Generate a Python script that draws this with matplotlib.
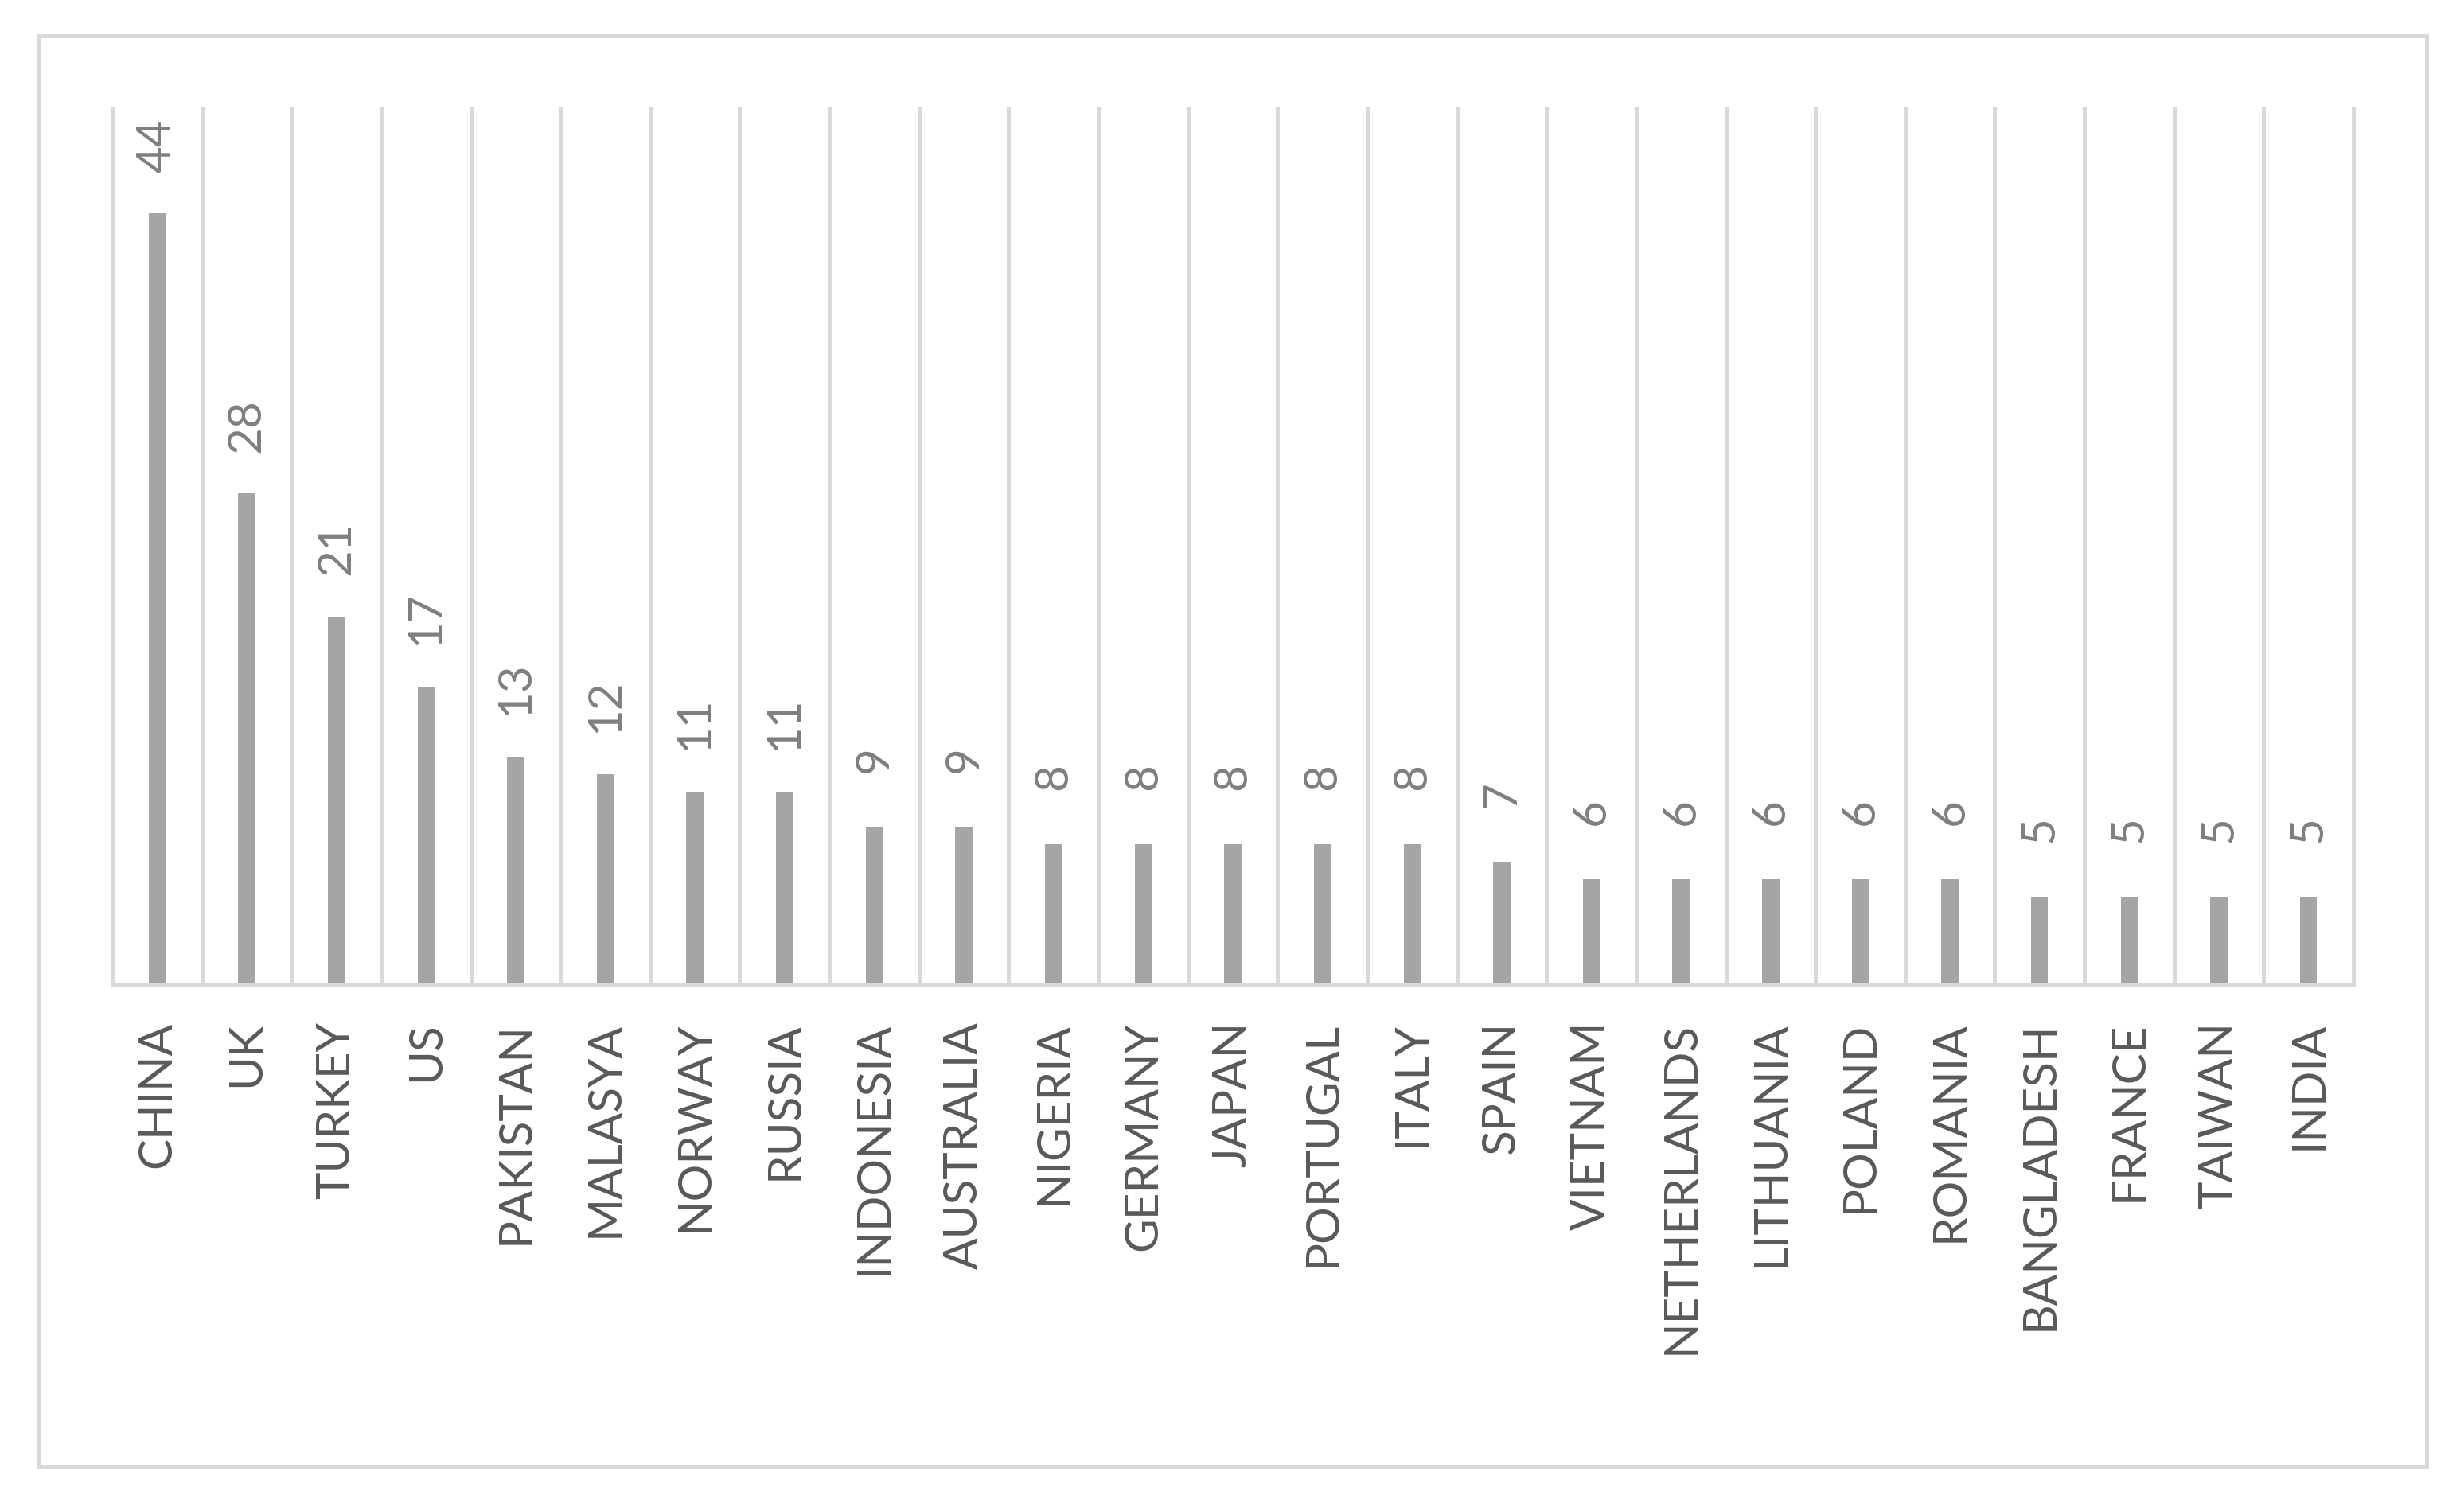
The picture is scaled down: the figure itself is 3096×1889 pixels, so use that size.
import matplotlib
matplotlib.use("Agg")
import matplotlib.pyplot as plt
from matplotlib.patches import Rectangle
import numpy as np

# data
countries = ["CHINA", "UK", "TURKEY", "US", "PAKISTAN", "MALASYA", "NORWAY",
             "RUSSIA", "INDONESIA", "AUSTRALIA", "NIGERIA", "GERMANY", "JAPAN",
             "PORTUGAL", "ITALY", "SPAIN", "VIETNAM", "NETHERLANDS", "LITHUANIA",
             "POLAND", "ROMANIA", "BANGLADESH", "FRANCE", "TAIWAN", "INDIA"]
counts = [44, 28, 21, 17, 13, 12, 11, 11, 9, 9, 8, 8, 8, 8, 8, 7,
          6, 6, 6, 6, 6, 5, 5, 5, 5]

plt.rcParams['font.family'] = ['Lato', 'DejaVu Sans']

grid_c = '#D9D9D9'
bar_c = '#A5A5A5'

fig = plt.figure(figsize=(30.96, 18.9), dpi=100)
ax = fig.add_axes([141 / 3096, 1 - 1238 / 1890, (2957 - 141) / 3096, (1238 - 137) / 1890])

ind = np.arange(len(countries))
ax.bar(ind, counts, 0.19, color=bar_c, zorder=2)

for x, v in zip(ind, counts):
    ax.annotate(str(v), (x, v), xytext=(0, 62), textcoords='offset points',
                rotation=90, ha='center', va='center', fontsize=42, color='#7F7F7F')

ax.set_xlim(-0.5, len(countries) - 0.5)
ax.set_ylim(0, 50)
ax.set_yticks([])
ax.set_xticks(ind)
ax.set_xticklabels(countries, rotation=90, fontsize=42, color='#595959')
ax.tick_params(axis='x', which='major', length=0, pad=33)

# category separators
ax.set_xticks(np.arange(-0.5, len(countries), 1), minor=True)
ax.tick_params(axis='x', which='minor', length=0)
ax.grid(True, which='minor', axis='x', color=grid_c, linewidth=3.6, zorder=0)
for t in ax.xaxis.get_minor_ticks():
    t.gridline.set_clip_on(False)
ax.set_axisbelow(True)

for s in ['top', 'right', 'left']:
    ax.spines[s].set_visible(False)
ax.spines['bottom'].set_color(grid_c)
ax.spines['bottom'].set_linewidth(3.6)

# outer chart border
fig.patches.append(Rectangle((49 / 3096, 1 - 1844 / 1890), 3000 / 3096, 1798 / 1890,
                             transform=fig.transFigure, fill=False,
                             edgecolor=grid_c, linewidth=3.6))

fig.savefig('out.png', dpi=100)
